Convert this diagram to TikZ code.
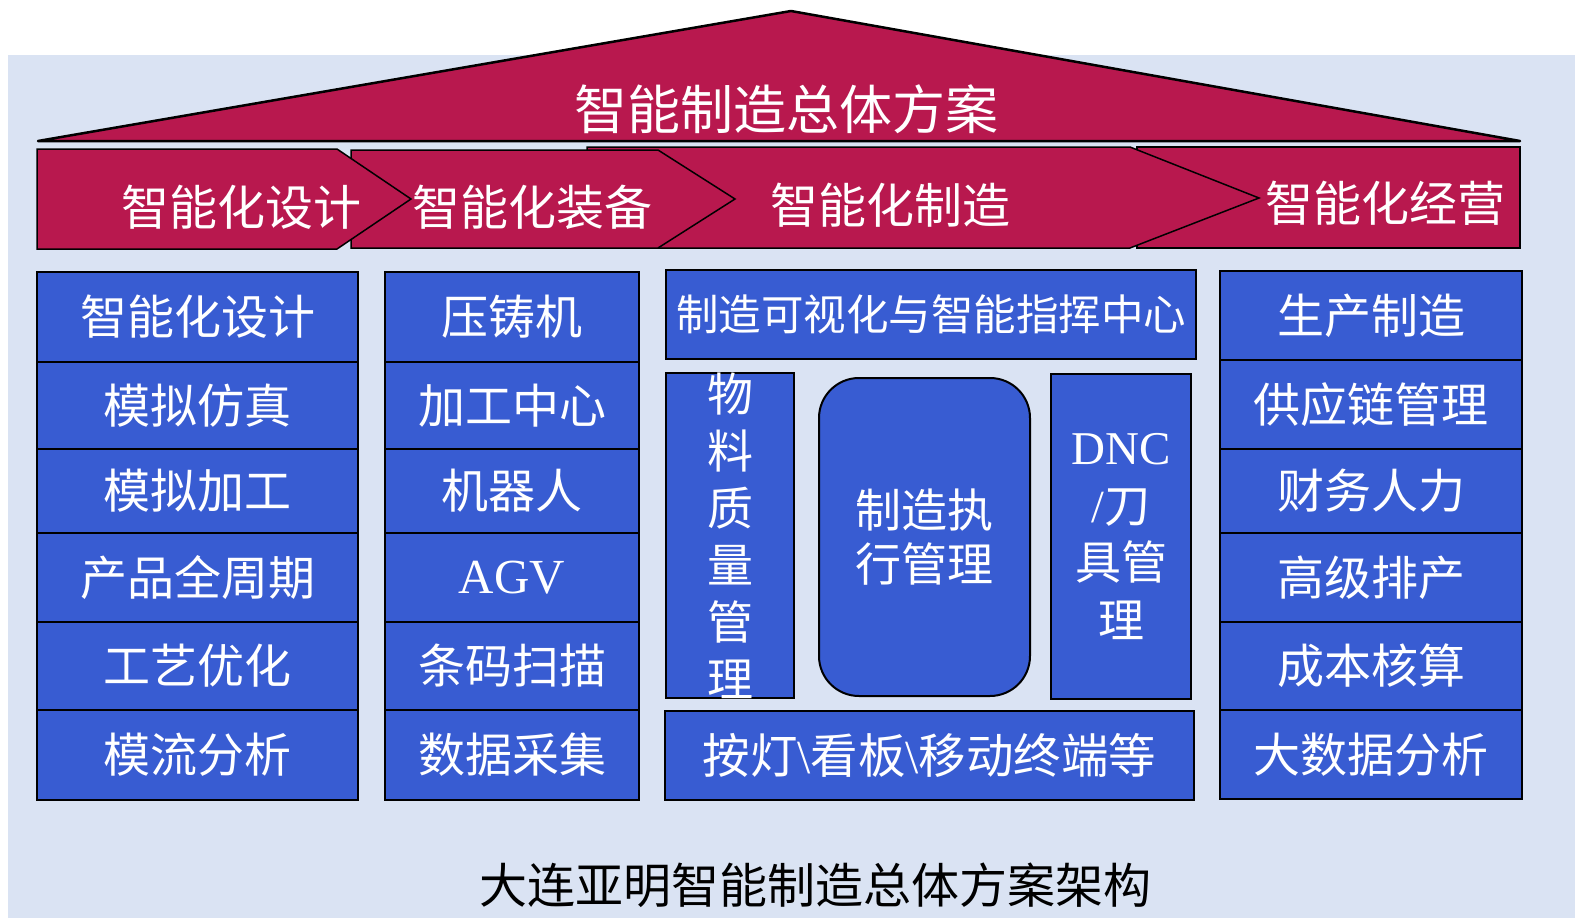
\documentclass[tikz,border=0pt]{standalone}
\usepackage{fontspec}
\setmainfont{Noto Sans CJK SC}
\newfontfamily\lat{Liberation Serif}
\definecolor{bgblue}{HTML}{DAE3F3}
\definecolor{crim}{HTML}{B8184E}
\definecolor{cellblue}{HTML}{385CD2}
\begin{document}
\begin{tikzpicture}[x=1pt,y=-1pt,
  cell/.style={draw=black, line width=2pt, fill=cellblue, text=white, inner sep=0pt, outer sep=0pt,
    font=\fontsize{47}{56}\selectfont, align=center},
  chev/.style={draw=black, line width=1.5pt, fill=crim},
  chevtext/.style={text=white, inner sep=0pt, font=\fontsize{48}{56}\selectfont}]
\useasboundingbox (0,0) rectangle (1575,918);
\fill[white] (0,0) rectangle (1575,918);
\fill[bgblue] (8,55) rectangle (1575,918);
% roof
\draw[chev, line width=2.5pt, line join=round] (38,141) -- (791,11) -- (1520,141) -- cycle;
\node[chevtext, font=\fontsize{53}{60}\selectfont] (roof) at (786,109) {智能制造总体方案};
% chevrons
\draw[chev] (1137,147) -- (1520,147) -- (1520,248) -- (1137,248) -- cycle;
\draw[chev] (587,147) -- (1130,147) -- (1259,198) -- (1130,248) -- (587,248) -- cycle;
\draw[chev] (351,150) -- (658,150) -- (735,199) -- (658,248) -- (351,248) -- cycle;
\draw[chev] (37,149) -- (337,149) -- (411,199) -- (337,249) -- (37,249) -- cycle;
\node[chevtext] (a1) at (241,207) {智能化设计};
\node[chevtext] (a2) at (532,207) {智能化装备};
\node[chevtext] (a3) at (890,205) {智能化制造};
\node[chevtext] (a4) at (1385,203) {智能化经营};
% column 1
\node[cell, minimum width=321pt, minimum height=90pt] (c11) at (197.5,317) {智能化设计};
\node[cell, minimum width=321pt, minimum height=87pt] (c12) at (197.5,405.5) {模拟仿真};
\node[cell, minimum width=321pt, minimum height=84pt] (c13) at (197.5,491) {模拟加工};
\node[cell, minimum width=321pt, minimum height=89pt] (c14) at (197.5,577.5) {产品全周期};
\node[cell, minimum width=321pt, minimum height=88pt] (c15) at (197.5,666) {工艺优化};
\node[cell, minimum width=321pt, minimum height=90pt] (c16) at (197.5,755) {模流分析};
% column 2
\node[cell, minimum width=254pt, minimum height=90pt] (c21) at (512,317) {压铸机};
\node[cell, minimum width=254pt, minimum height=87pt] (c22) at (512,405.5) {加工中心};
\node[cell, minimum width=254pt, minimum height=84pt] (c23) at (512,491) {机器人};
\node[cell, minimum width=254pt, minimum height=89pt, font=\fontsize{49}{56}\selectfont] (c24) at (512,577.5) {{\lat AGV}};
\node[cell, minimum width=254pt, minimum height=88pt] (c25) at (512,666) {条码扫描};
\node[cell, minimum width=254pt, minimum height=90pt] (c26) at (512,755) {数据采集};
% column 3
\node[cell, minimum width=530pt, minimum height=89pt, font=\fontsize{42.5}{50}\selectfont] (c31) at (931,314.5) {制造可视化与智能指挥中心};
\node[cell, minimum width=128pt, minimum height=325pt, font=\fontsize{46}{57}\selectfont] (c32) at (730,535.5) {物\\料\\质\\量\\管\\理};
\node[cell, minimum width=211pt, minimum height=318pt, rounded corners=40pt, font=\fontsize{46}{54}\selectfont] (c33) at (924.5,537) {制造执\\行管理};
\node[cell, minimum width=140pt, minimum height=325pt, font=\fontsize{46}{57.5}\selectfont] (c34) at (1121,536.5) {{\lat\fontsize{47}{57.5}\selectfont DNC}\\{\lat /}刀\\具管\\理};
\node[cell, minimum width=529pt, minimum height=89pt, font=\fontsize{47.5}{56}\selectfont] (c35) at (929.5,755.5) {按灯{\lat\textbackslash}看板{\lat\textbackslash}移动终端等};
% column 4
\node[cell, minimum width=302pt, minimum height=89pt] (c41) at (1371,315.5) {生产制造};
\node[cell, minimum width=302pt, minimum height=89pt] (c42) at (1371,404.5) {供应链管理};
\node[cell, minimum width=302pt, minimum height=84pt] (c43) at (1371,491) {财务人力};
\node[cell, minimum width=302pt, minimum height=89pt] (c44) at (1371,577.5) {高级排产};
\node[cell, minimum width=302pt, minimum height=88pt] (c45) at (1371,666) {成本核算};
\node[cell, minimum width=302pt, minimum height=89pt] (c46) at (1371,754.5) {大数据分析};
% caption
\node[text=black, inner sep=0pt, font=\fontsize{48}{56}\selectfont] (title) at (815,885) {大连亚明智能制造总体方案架构};
\end{tikzpicture}
\end{document}
